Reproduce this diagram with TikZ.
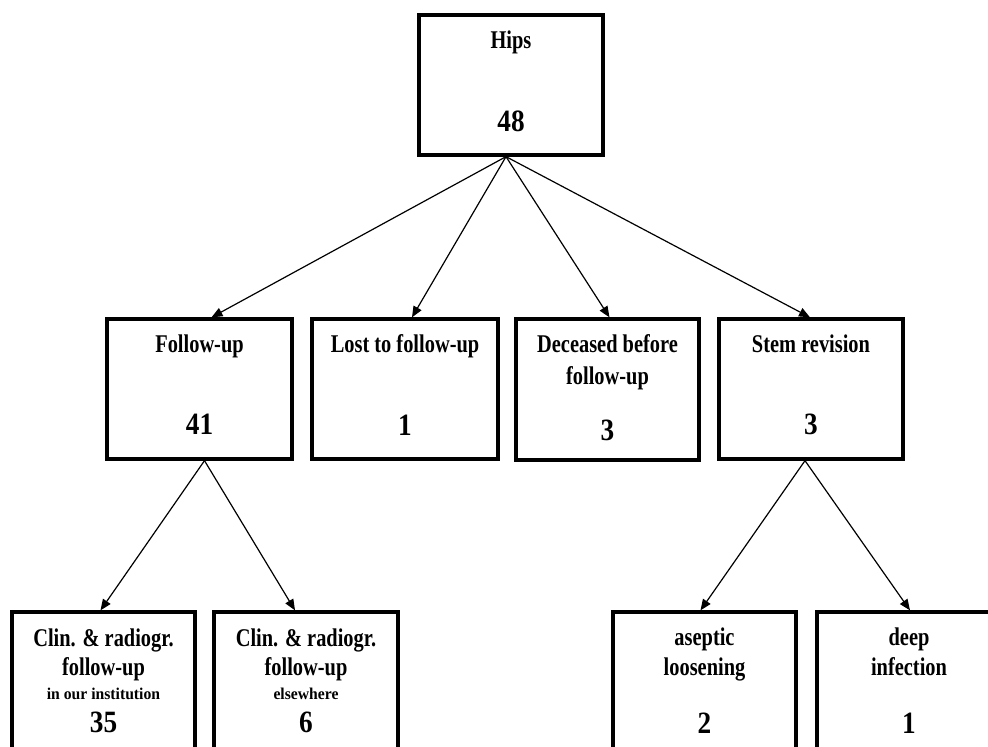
\documentclass[tikz,border=0pt]{standalone}
\usepackage{fontspec}
\usepackage{graphicx}
\setmainfont{Liberation Serif}
\usetikzlibrary{arrows.meta}
\newcommand{\cnd}[1]{\scalebox{0.8}[1]{#1}}
\newcommand{\cnn}[1]{\scalebox{0.88}[1]{#1}}
\newcommand{\cns}[1]{\scalebox{0.95}[1]{#1}}
\tikzset{
  box/.style={draw=black, line width=3.3pt, rectangle, minimum width=184pt, inner sep=0pt},
  lbl/.style={inner sep=0pt, anchor=base, font=\fontsize{25.5}{28}\selectfont\bfseries, text=black},
  sml/.style={inner sep=0pt, anchor=base, font=\fontsize{16.5}{18}\selectfont\bfseries, text=black},
  num/.style={inner sep=0pt, anchor=base, font=\fontsize{31}{33}\selectfont\bfseries, text=black},
  conn/.style={line width=1.2pt, -{Triangle[length=11pt,width=9pt]}}
}
\begin{document}
\begin{tikzpicture}[x=1pt,y=-1pt]
\useasboundingbox (0,0) rectangle (988,747);
\clip (0,0) rectangle (988,747);
\fill[white] (0,0) rectangle (988,747);
% boxes
\node[box, minimum height=140pt] (hips) at (511,85) {};
\node[box, minimum width=185pt, minimum height=140pt] (fu) at (199.5,389) {};
\node[box, minimum width=186pt, minimum height=140pt] (lost) at (405,389) {};
\node[box, minimum width=183pt, minimum height=141pt] (dec) at (607.5,389.5) {};
\node[box, minimum height=140pt] (stem) at (811,389) {};
\node[box, minimum width=183pt, minimum height=170pt] (cl1) at (103.5,697) {};
\node[box, minimum height=170pt] (cl2) at (306,697) {};
\node[box, minimum width=183pt, minimum height=170pt] (asep) at (704.5,697) {};
\node[box, minimum height=170pt] (deep) at (909,697) {};
% texts
\node[lbl] (thips) at (511,48) {\cnd{Hips}};
\node[num] (nhips) at (511,131) {\cnn{48}};
\node[lbl] (tfu) at (199.5,352) {\cnd{Follow-up}};
\node[num] (nfu) at (199.5,434) {\cnn{41}};
\node[lbl] (tlost) at (405,352) {\cnd{Lost to follow-up}};
\node[num] (nlost) at (405,435) {\cnn{1}};
\node[lbl] (tdec1) at (607.5,352) {\cnd{Deceased before}};
\node[lbl] (tdec2) at (607.5,384) {\cnd{follow-up}};
\node[num] (ndec) at (607.5,440) {\cnn{3}};
\node[lbl] (tstem) at (811,352) {\cnd{Stem revision}};
\node[num] (nstem) at (811,434) {\cnn{3}};
\node[lbl] (tcl1a) at (103.5,646) {\cnd{Clin. \& radiogr.}};
\node[lbl] (tcl1b) at (103.5,675) {\cnd{follow-up}};
\node[sml] (tcl1c) at (103.5,699) {\cns{in our institution}};
\node[num] (ncl1) at (103.5,732) {\cnn{35}};
\node[lbl] (tcl2a) at (306,646) {\cnd{Clin. \& radiogr.}};
\node[lbl] (tcl2b) at (306,675) {\cnd{follow-up}};
\node[sml] (tcl2c) at (306,699) {\cns{elsewhere}};
\node[num] (ncl2) at (306,732) {\cnn{6}};
\node[lbl] (tasa) at (704.5,645) {\cnd{aseptic}};
\node[lbl] (tasb) at (704.5,675) {\cnd{loosening}};
\node[num] (nas) at (704.5,733) {\cnn{2}};
\node[lbl] (tdpa) at (909,645) {\cnd{deep}};
\node[lbl] (tdpb) at (909,675) {\cnd{infection}};
\node[num] (ndp) at (909,733) {\cnn{1}};
% connectors
\coordinate (hb) at ([xshift=-5pt]hips.south);
\draw[conn] (hb) -- ([xshift=12pt]fu.north);
\draw[conn] (hb) -- ([xshift=7pt]lost.north);
\draw[conn] (hb) -- ([xshift=2pt]dec.north);
\draw[conn] (hb) -- ([xshift=-1pt]stem.north);
\coordinate (fb) at ([xshift=5pt]fu.south);
\draw[conn] (fb) -- ([xshift=-3pt]cl1.north);
\draw[conn] (fb) -- ([xshift=-11pt]cl2.north);
\coordinate (sb) at ([xshift=-6pt]stem.south);
\draw[conn] (sb) -- ([xshift=-4pt]asep.north);
\draw[conn] (sb) -- ([xshift=1pt]deep.north);
\end{tikzpicture}
\end{document}
